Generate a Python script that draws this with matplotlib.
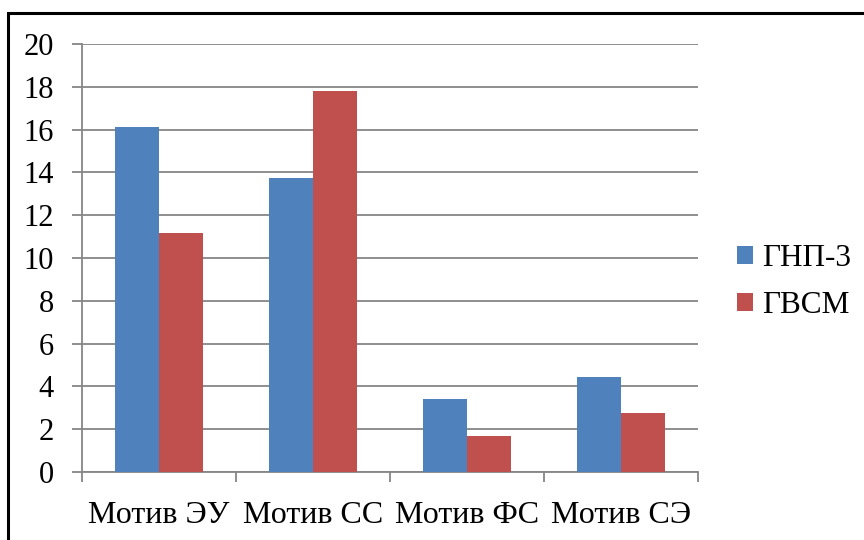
import matplotlib
matplotlib.use("Agg")
import matplotlib.pyplot as plt
import numpy as np
from matplotlib.patches import Rectangle

categories = ["Мотив ЭУ", "Мотив СС", "Мотив ФС", "Мотив СЭ"]
series_names = ["ГНП-3", "ГВСМ"]
gnp3 = [16.1, 13.75, 3.4, 4.45]
gvsm = [11.15, 17.8, 1.7, 2.75]
y_ticks = [0, 2, 4, 6, 8, 10, 12, 14, 16, 18, 20]

colors = ["#4F81BD", "#C0504D"]
grid_color = "#868686"

plt.rcParams["font.family"] = "serif"
plt.rcParams["font.serif"] = ["Liberation Serif", "DejaVu Serif"]

fig = plt.figure(figsize=(8.64, 5.4), dpi=100)
W, H = 864, 540
ax = fig.add_axes([81.7 / W, 1 - 472 / H, (698 - 81.7) / W, (472 - 44) / H])

x = np.arange(len(categories))
bw = 1 / 3.5
ax.bar(x - bw / 2, gnp3, width=bw, color=colors[0], label=series_names[0], zorder=3)
ax.bar(x + bw / 2, gvsm, width=bw, color=colors[1], label=series_names[1], zorder=3)

ax.set_xlim(-0.5, len(categories) - 0.5)
ax.set_ylim(0, 20)
ax.set_yticks(y_ticks)
ax.set_yticklabels([str(t) for t in y_ticks], fontsize=22)
ax.yaxis.grid(True, color=grid_color, linewidth=1.3, zorder=0)
ax.set_axisbelow(True)

# category labels centered, tick marks at category boundaries
ax.set_xticks(x)
ax.set_xticklabels(categories, fontsize=23)
ax.tick_params(axis="x", length=0, pad=21)
ax.set_xticks(np.arange(-0.5, len(categories)), minor=True)
ax.tick_params(axis="x", which="minor", length=7.2, width=1.3, color=grid_color)
ax.tick_params(axis="y", length=7.2, width=1.3, color=grid_color, pad=13)

for side in ["top", "right"]:
    ax.spines[side].set_visible(False)
for side in ["left", "bottom"]:
    ax.spines[side].set_color(grid_color)
    ax.spines[side].set_linewidth(1.3)

leg = fig.legend(loc="center left", bbox_to_anchor=(737 / W, 1 - 282 / H),
                 frameon=False, fontsize=22.5, handlelength=0.5, handleheight=0.5,
                 handletextpad=0.3, labelspacing=0.58, borderpad=0,
                 borderaxespad=0)

# outer frame
fig.patches.append(Rectangle((8 / W, -0.1), 1.2, 1 - 12.5 / H + 0.1,
                             transform=fig.transFigure, fill=False,
                             edgecolor="black", linewidth=2.2))

fig.savefig("out.png", dpi=100)
